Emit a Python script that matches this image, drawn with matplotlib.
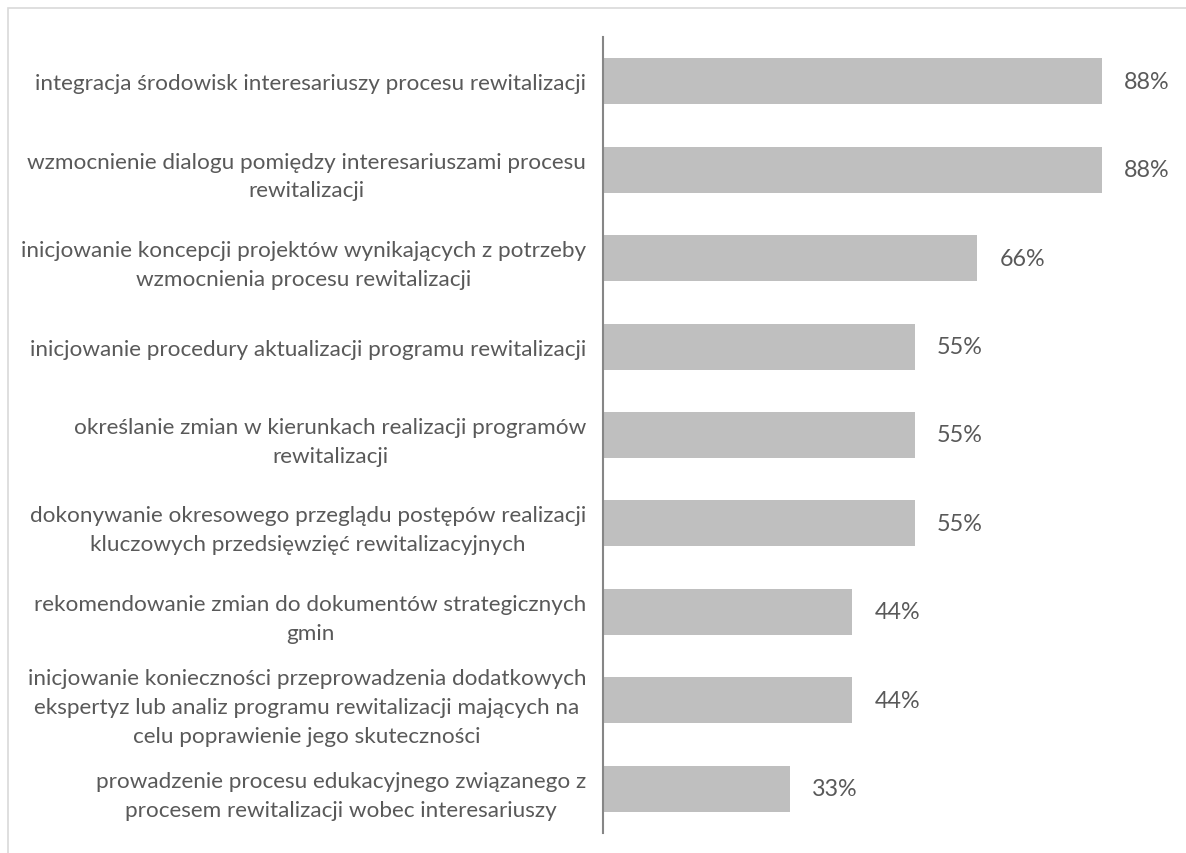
import matplotlib.pyplot as plt
from matplotlib.patches import Rectangle

categories = [
    "integracja środowisk interesariuszy procesu rewitalizacji",
    "wzmocnienie dialogu pomiędzy interesariuszami procesu\nrewitalizacji",
    "inicjowanie koncepcji projektów wynikających z potrzeby\nwzmocnienia procesu rewitalizacji",
    "inicjowanie procedury aktualizacji programu rewitalizacji",
    "określanie zmian w kierunkach realizacji programów\nrewitalizacji",
    "dokonywanie okresowego przeglądu postępów realizacji\nkluczowych przedsięwzięć rewitalizacyjnych",
    "rekomendowanie zmian do dokumentów strategicznych\ngmin",
    "inicjowanie konieczności przeprowadzenia dodatkowych\nekspertyz lub analiz programu rewitalizacji mających na\ncelu poprawienie jego skuteczności",
    "prowadzenie procesu edukacyjnego związanego z\nprocesem rewitalizacji wobec interesariuszy",
]
values = [88, 88, 66, 55, 55, 55, 44, 44, 33]

plt.rcParams['font.family'] = ['Lato', 'DejaVu Sans']
text_color = "#595959"

fig = plt.figure(figsize=(11.86, 8.54), dpi=100)
ax = fig.add_axes([603 / 1186, 1 - 834 / 854, (1170 - 603) / 1186, (834 - 38) / 854])

y = list(range(len(categories)))
ax.barh(y, values, height=0.52, color="#BFBFBF")
ax.set_ylim(len(categories) - 0.5, -0.5)
ax.set_xlim(0, 100)

for yi, v in zip(y, values):
    ax.text(v + 3.9, yi, f"{v}%", va="center", ha="left", fontsize=16.8, color=text_color)

ax.set_yticks(y)
ax.set_yticklabels(categories, fontsize=16.2, color=text_color,
                   multialignment="center", linespacing=1.55)
ax.tick_params(axis="y", length=0, pad=12)
ax.set_xticks([])

for s in ["top", "right", "bottom"]:
    ax.spines[s].set_visible(False)
ax.spines["left"].set_color("#868686")
ax.spines["left"].set_linewidth(1.5)

# outer chart border (only left and top edges visible in the crop)
fig.patches.append(Rectangle((8 / 1186, -0.1), 1.2, 1 - 9 / 854 + 0.1,
                             transform=fig.transFigure, fill=False,
                             edgecolor="#D9D9D9", linewidth=1.2))

fig.savefig("out.png", dpi=100)
